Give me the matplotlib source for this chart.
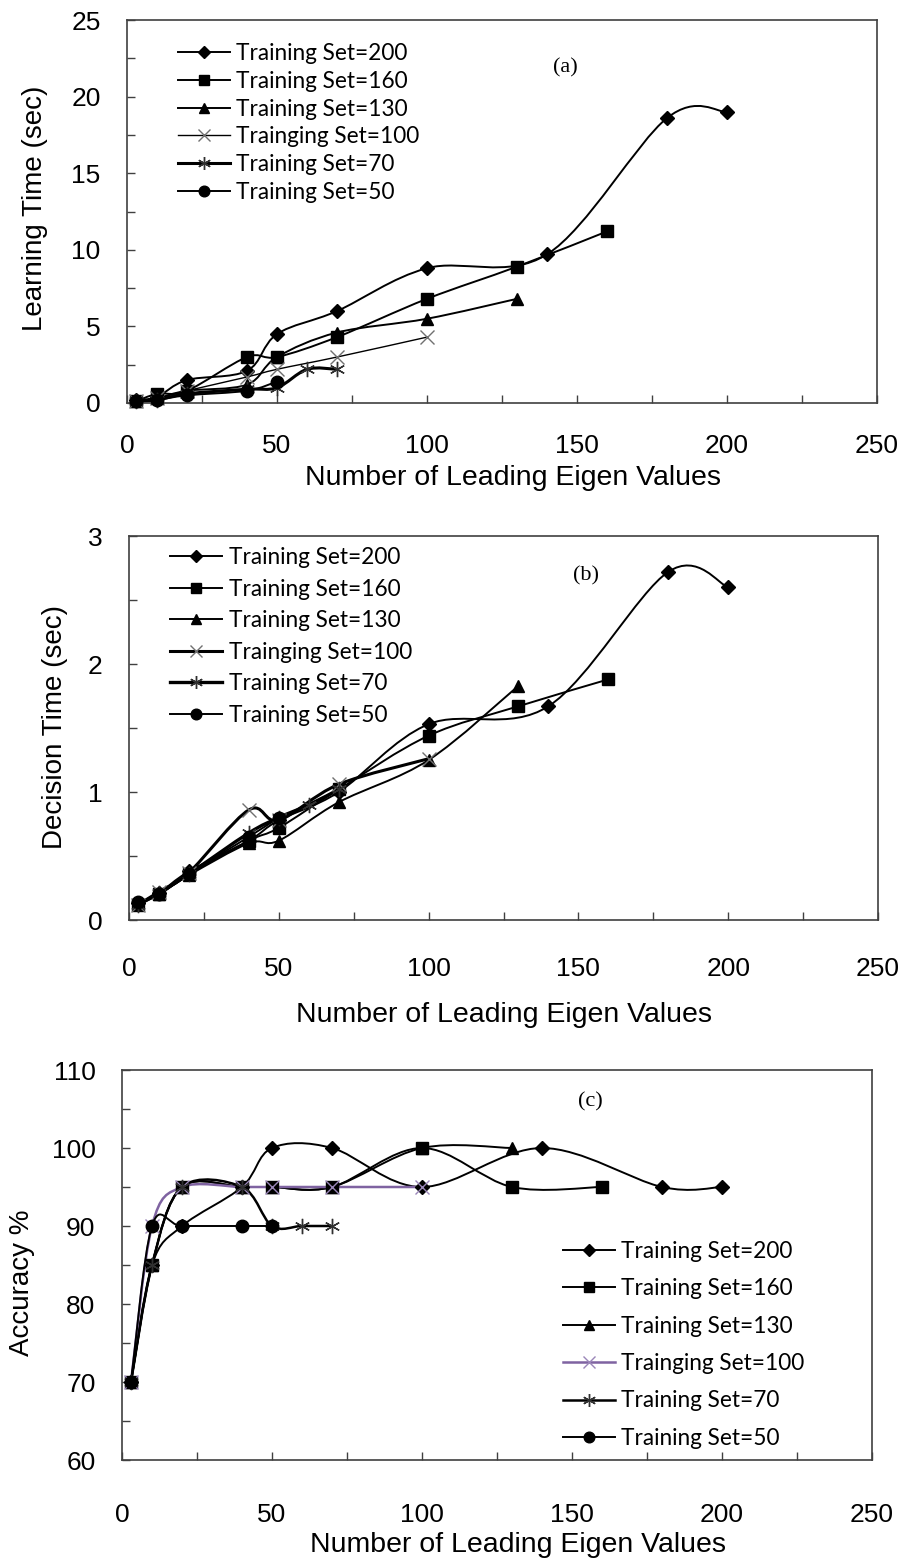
import numpy as np
import matplotlib
matplotlib.use('Agg')
import matplotlib.pyplot as plt
from matplotlib.path import Path
from matplotlib.patches import PathPatch
from matplotlib.lines import Line2D

# DATA
labels = ['Training Set=200', 'Training Set=160', 'Training Set=130',
          'Trainging Set=100', 'Training Set=70', 'Training Set=50']

x200 = [3, 10, 20, 40, 50, 70, 100, 140, 180, 200]
x160 = [3, 10, 20, 40, 50, 70, 100, 130, 160]
x130 = [3, 10, 20, 40, 50, 70, 100, 130]
x100 = [3, 10, 20, 40, 50, 70, 100]
x70 = [3, 10, 20, 40, 50, 60, 70]
x50 = [3, 10, 20, 40, 50]

# (a) learning time (sec)
learn200 = [0.2, 0.4, 1.5, 2.1, 4.5, 6.0, 8.8, 9.7, 18.6, 19.0]
learn160 = [0.1, 0.6, 0.8, 3.0, 3.0, 4.3, 6.8, 8.9, 11.2]
learn130 = [0.1, 0.3, 0.8, 1.2, 3.0, 4.6, 5.5, 6.8]
learn100 = [0.1, 0.3, 0.8, 1.7, 2.2, 3.0, 4.3]
learn70 = [0.1, 0.2, 0.6, 0.9, 1.0, 2.2, 2.2]
learn50 = [0.1, 0.2, 0.5, 0.8, 1.4]

# (b) decision time (sec)
dec200 = [0.13, 0.21, 0.38, 0.62, 0.78, 1.0, 1.53, 1.67, 2.72, 2.60]
dec160 = [0.12, 0.2, 0.36, 0.62, 0.72, 1.02, 1.44, 1.67, 1.88]
dec130 = [0.13, 0.2, 0.35, 0.6, 0.62, 0.92, 1.25, 1.83]
dec100 = [0.12, 0.22, 0.37, 0.86, 0.78, 1.06, 1.26]
dec70 = [0.12, 0.21, 0.36, 0.68, 0.8, 0.9, 1.02]
dec50 = [0.14, 0.2, 0.36, 0.65, 0.8]

# (c) accuracy %
acc200 = [70, 85, 90, 95, 100, 100, 95, 100, 95, 95]
acc160 = [70, 85, 95, 95, 95, 95, 100, 95, 95]
acc130 = [70, 85, 95, 95, 95, 95, 100, 100]
acc100 = [70, 90, 95, 95, 95, 95, 95]
acc70 = [70, 85, 95, 95, 90, 90, 90]
acc50 = [70, 90, 90, 90, 90]

xs = [x200, x160, x130, x100, x70, x50]

W, H = 907, 1561
fig = plt.figure(figsize=(W / 100, H / 100), dpi=100)

tick_font = 'Liberation Sans'
leg_font = 'Lato'
asterisk = (6, 2, 0)


def smooth_path(x, y):
    # Excel-like smoothed line (Catmull-Rom as cubic Bezier)
    p = np.column_stack([x, y]).astype(float)
    verts = [p[0]]
    codes = [Path.MOVETO]
    n = len(p)
    for i in range(n - 1):
        p0 = p[i - 1] if i > 0 else p[i]
        p3 = p[i + 2] if i + 2 < n else p[i + 1]
        c1 = p[i] + (p[i + 1] - p0) / 6
        c2 = p[i + 1] - (p3 - p[i]) / 6
        verts += [c1, c2, p[i + 1]]
        codes += [Path.CURVE4] * 3
    return Path(verts, codes)


def axes_px(left, top, right, bottom):
    return fig.add_axes([left / W, 1 - bottom / H, (right - left) / W, (bottom - top) / H])


def draw_panel(ax, ys, styles, ymax, ymin, ymajor, ylabel, xlab_y, xlab_x, ylab_x, ylab_y,
               xpad, ypad, tag, tag_xy, leg_anchor, leg_spacing):
    for x, y, st in zip(xs, ys, styles):
        ax.add_patch(PathPatch(smooth_path(x, y), fill=False, lw=st['lw'],
                               edgecolor=st['lc'], capstyle='round', joinstyle='round', zorder=2))
        ax.plot(x, y, linestyle='none', marker=st['m'], ms=st['ms'], mfc=st['mc'],
                mec=st['mc'], mew=st['mew'], zorder=3, clip_on=False)
    ax.set_xlim(0, 250)
    ax.set_ylim(ymin, ymax)
    ax.set_xticks(np.arange(0, 251, 50))
    ax.set_xticks(np.arange(25, 250, 50), minor=True)
    ax.set_yticks(np.arange(ymin, ymax + 0.001, ymajor))
    ax.set_yticks(np.arange(ymin + ymajor / 2, ymax, ymajor), minor=True)
    ax.yaxis.set_major_formatter(matplotlib.ticker.FormatStrFormatter('%g'))
    ax.tick_params(which='both', direction='in', length=6, width=1, color='#404040',
                   top=False, right=False)
    ax.tick_params(axis='x', which='major', pad=xpad, labelsize=19)
    ax.tick_params(axis='y', which='major', pad=ypad, labelsize=19)
    for lab in ax.get_xticklabels() + ax.get_yticklabels():
        lab.set_fontfamily(tick_font)
    for s in ax.spines.values():
        s.set_color('#404040')
        s.set_linewidth(1.2)
    ax.text(xlab_x, xlab_y, 'Number of Leading Eigen Values', transform=ax.transAxes,
            ha='center', va='center', fontsize=20.5, family=tick_font)
    ax.text(ylab_x, ylab_y, ylabel, transform=ax.transAxes, rotation=90,
            ha='center', va='center', fontsize=20, family=tick_font)
    ax.text(tag_xy[0], tag_xy[1], tag, transform=ax.transAxes, ha='center', va='center',
            fontsize=16, family='Liberation Serif')
    handles = [Line2D([], [], color=st['lc'], lw=st['lw'], marker=st['m'], ms=st['ms'] * 0.85,
                      mfc=st['mc'], mec=st['mc'], mew=st['mew']) for st in styles]
    ax.legend(handles, labels, loc='upper left', bbox_to_anchor=leg_anchor, frameon=False,
              borderpad=0, borderaxespad=0, handlelength=2.3, handletextpad=0.28,
              labelspacing=leg_spacing, prop={'family': leg_font, 'size': 16.3})


def make_styles(lw_x, lw_star, xcol_line, xcol_mark):
    return [
        dict(m='D', ms=7.5, mc='black', mew=1, lw=1.4, lc='black'),
        dict(m='s', ms=8, mc='black', mew=1, lw=1.4, lc='black'),
        dict(m='^', ms=9, mc='black', mew=1, lw=1.4, lc='black'),
        dict(m='x', ms=10, mc=xcol_mark, mew=1, lw=lw_x, lc=xcol_line),
        dict(m=asterisk, ms=11, mc='#303030', mew=1, lw=lw_star, lc='black'),
        dict(m='o', ms=9, mc='black', mew=1, lw=1.4, lc='black'),
    ]


# (a)
ax1 = axes_px(127, 20, 877, 403)
draw_panel(ax1, [learn200, learn160, learn130, learn100, learn70, learn50],
           make_styles(1.0, 2.2, 'black', '#707070'),
           25, 0, 5, 'Learning Time (sec)', -0.196, 0.515, -0.123, 0.509,
           22, 19, '(a)', (0.585, 0.875), (0.068, 0.940), 0.30)

# (b)
ax2 = axes_px(129, 536, 878, 920)
draw_panel(ax2, [dec200, dec160, dec130, dec100, dec70, dec50],
           make_styles(2.2, 2.4, 'black', '#707070'),
           3, 0, 1, 'Decision Time (sec)', -0.247, 0.50, -0.099, 0.503,
           27, 19, '(b)', (0.610, 0.895), (0.055, 0.971), 0.465)

# (c)
ax3 = axes_px(122, 1070, 872, 1460)
draw_panel(ax3, [acc200, acc160, acc130, acc100, acc70, acc50],
           make_styles(1.8, 1.8, '#7F63A1', '#9A86B8'),
           110, 60, 10, 'Accuracy %', -0.218, 0.528, -0.133, 0.454,
           31, 19, '(c)', (0.625, 0.918), (0.588, 0.562), 0.725)

plt.savefig('out.png', dpi=100)
